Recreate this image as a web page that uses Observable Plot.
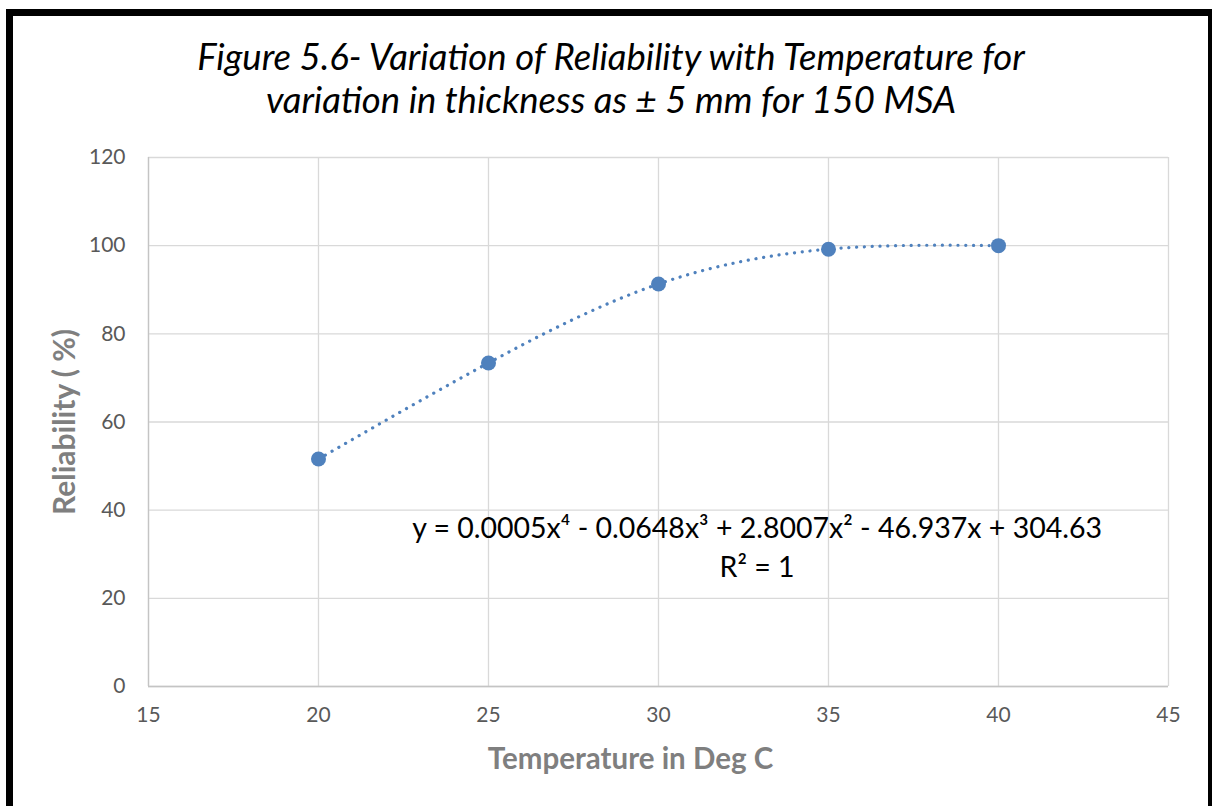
<!DOCTYPE html>
<html>
<head>
<meta charset="utf-8">
<script src="https://cdn.jsdelivr.net/npm/d3@7"></script>
<script src="https://cdn.jsdelivr.net/npm/@observablehq/plot@0.6"></script>
<style>
  html, body { margin: 0; padding: 0; background: #fff; overflow: hidden; }
  #wrap { position: relative; width: 1212px; height: 806px; overflow: hidden; background: #fff; }
  #border { position: absolute; left: 6px; top: 9px; width: 1209px; height: 900px; box-sizing: border-box; border: 7px solid #000; }
  #title { position: absolute; left: 0; top: 35px; width: 1222px; text-align: center; font-family: Lato, "Open Sans", sans-serif; font-style: italic; font-size: 36.5px; line-height: 43px; color: #000; }
  #chart { position: absolute; left: 0; top: 0; }
</style>
</head>
<body>
<div id="wrap">
  <div id="border"></div>
  <div id="chart"></div>
  <div id="title">Figure 5.6- Variation of Reliability with Temperature for<br>variation in thickness as ± 5 mm for 150 MSA</div>
</div>
<script>
const temps = [20, 25, 30, 35, 40];
const reliability = [51.6, 73.4, 91.3, 99.2, 100];
const xTicks = [15, 20, 25, 30, 35, 40, 45];
const yTicks = [0, 20, 40, 60, 80, 100, 120];
const xTitle = "Temperature in Deg C";
const yTitle = "Reliability ( %)";
const noteText = ["y = 0.0005x⁴ - 0.0648x³ + 2.8007x² - 46.937x + 304.63", "R² = 1"];
const noteX = [32.9, 32.9];
const noteY = [35.8, 27.0];

const data = temps.map((t, i) => ({temp: t, rel: reliability[i]}));
const notes = noteText.map((t, i) => ({text: t, x: noteX[i], y: noteY[i]}));
const blue = "#4F81BD";

const chart = Plot.plot({
  width: 1212,
  height: 806,
  marginLeft: 148,
  marginRight: 44,
  marginTop: 157,
  marginBottom: 120,
  style: {fontFamily: "Lato, 'Open Sans', sans-serif", background: "transparent"},
  x: {domain: [15, 45]},
  y: {domain: [0, 120]},
  marks: [
    Plot.gridX(xTicks, {stroke: "#d9d9d9", strokeOpacity: 1, strokeWidth: 1.3}),
    Plot.gridY(yTicks, {stroke: "#d9d9d9", strokeOpacity: 1, strokeWidth: 1.3}),
    Plot.ruleX([15], {stroke: "#c4c4c4", strokeWidth: 1.3}),
    Plot.ruleY([0], {stroke: "#c4c4c4", strokeWidth: 1.3}),
    Plot.axisX(xTicks, {tickSize: 0, tickPadding: 21, fontSize: 21, fill: "#595959", label: null}),
    Plot.axisY(yTicks, {tickSize: 0, tickPadding: 23, fontSize: 21, fill: "#595959", label: null}),
    Plot.line(data, {x: "temp", y: "rel", curve: "natural", stroke: blue, strokeWidth: 3.2, strokeDasharray: "0.1 7.7", strokeLinecap: "round"}),
    Plot.dot(data, {x: "temp", y: "rel", r: 7.5, fill: blue}),
    Plot.text(notes, {x: "x", y: "y", text: "text", fontSize: 28.5, fill: "#000"}),
    Plot.text([xTitle], {frameAnchor: "bottom", dx: -28, dy: 82, fontSize: 29.5, fontWeight: "bold", fill: "#7f7f7f"}),
    Plot.text([yTitle], {frameAnchor: "left", textAnchor: "middle", dx: -83, rotate: -90, fontSize: 30, fontWeight: "bold", fill: "#7f7f7f"})
  ]
});
document.getElementById("chart").appendChild(chart);
</script>
</body>
</html>
